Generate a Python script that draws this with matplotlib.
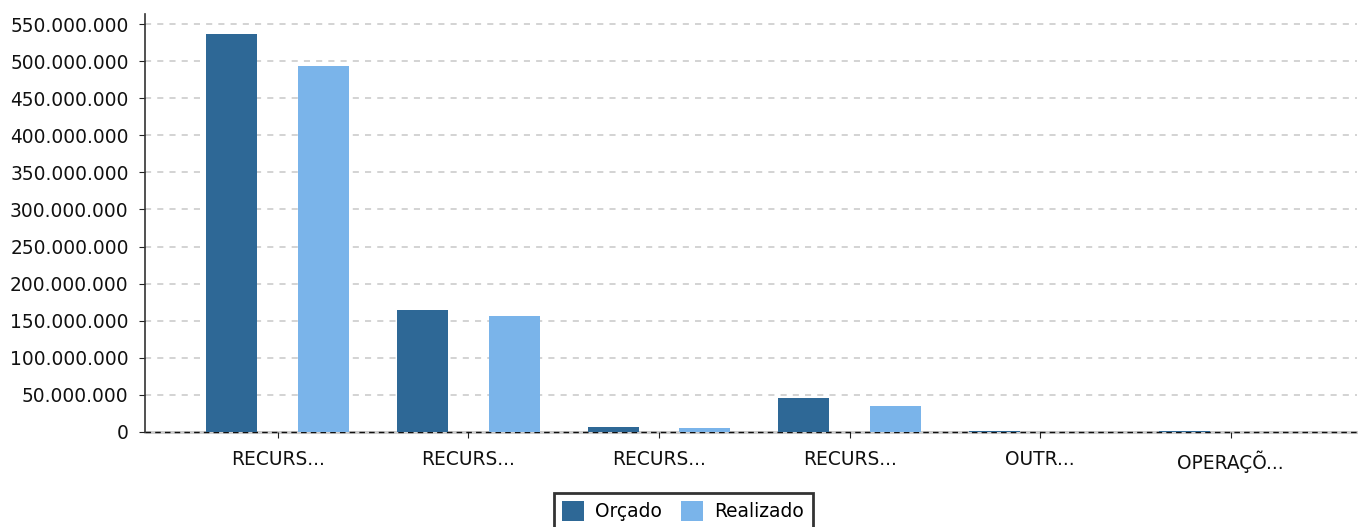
import matplotlib
matplotlib.use("Agg")
import matplotlib.pyplot as plt
import numpy as np
from matplotlib.ticker import FuncFormatter

categories = ["RECURS...", "RECURS...", "RECURS...", "RECURS...", "OUTR...", "OPERAÇÕ..."]
orcado = [536_500_000, 164_500_000, 6_700_000, 45_800_000, 1_500_000, 800_000]
realizado = [493_400_000, 156_400_000, 5_400_000, 35_000_000, 500_000, 500_000]
yticks = [0, 50e6, 100e6, 150e6, 200e6, 250e6, 300e6, 350e6, 400e6, 450e6, 500e6, 550e6]

c_dark = "#2e6896"
c_light = "#7ab4ea"

fig = plt.figure(figsize=(13.58, 5.27), dpi=100)
ax = fig.add_axes([0.1068, 0.1803, 0.8925, 0.7931])

x = np.arange(len(categories))
off = 0.241
w = 0.267
ax.bar(x - off, orcado, width=w, color=c_dark, label="Orçado", zorder=3)
ax.bar(x + off, realizado, width=w, color=c_light, label="Realizado", zorder=3)

ax.set_xlim(-0.697, 5.663)
ax.set_ylim(0, 563.5e6)
ax.set_yticks(yticks)
ax.yaxis.set_major_formatter(FuncFormatter(lambda v, p: f"{int(round(v)):,}".replace(",", ".")))
ax.set_xticks(x)
ax.set_xticklabels(categories)
ax.tick_params(axis="both", labelsize=13.4, colors="#222222", labelcolor="#111111")
ax.tick_params(axis="x", length=4, pad=9)
ax.tick_params(axis="y", length=4.3, pad=7.5)

ax.grid(axis="y", linestyle=(0, (4, 4)), color="#c8c8c8", linewidth=1.1, zorder=0)
ax.axhline(0, color="#cfcfcf", linewidth=2.2, zorder=1, clip_on=False)
ax.axhline(0, color="#111111", linewidth=1.0, linestyle=(0, (4, 3)), zorder=2, clip_on=False)

for s in ["top", "right", "bottom"]:
    ax.spines[s].set_visible(False)
ax.spines["left"].set_color("#333333")
ax.spines["left"].set_linewidth(1.2)

leg = fig.legend(loc="upper center", bbox_to_anchor=(0.503, 0.082), ncol=2, fontsize=13.4,
                 frameon=True, fancybox=False, edgecolor="#000000", handlelength=1.2,
                 handleheight=1.2, columnspacing=1.0, handletextpad=0.6, borderpad=0.45)
leg.get_frame().set_linewidth(2)

fig.savefig("out.png", dpi=100)
